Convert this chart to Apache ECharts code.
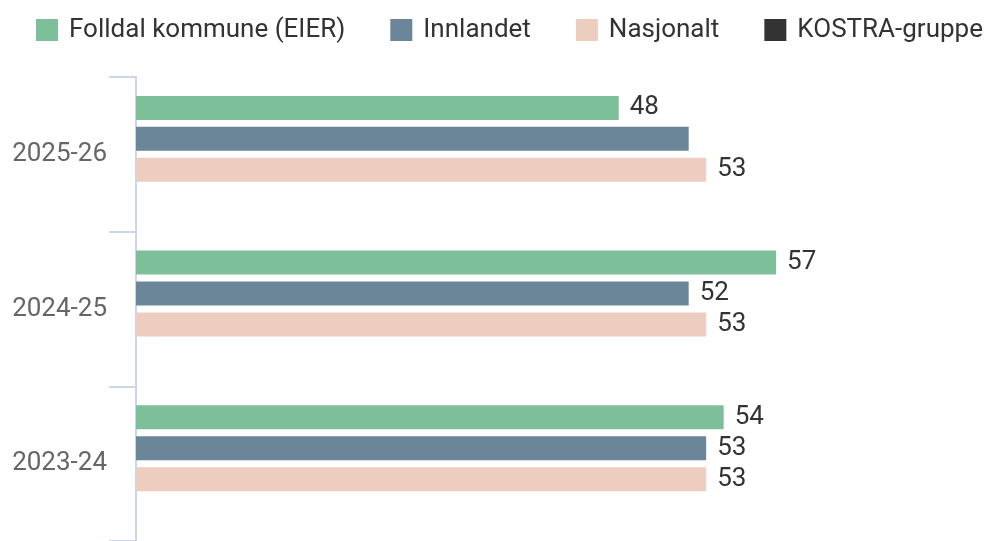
<!DOCTYPE html>
<html>
<head>
<meta charset="utf-8">
<script src="https://cdn.jsdelivr.net/npm/echarts@6/dist/echarts.min.js"></script>
<style>
  html, body { margin: 0; padding: 0; background: #fff; }
  #chart { width: 999px; height: 541px; }
</style>
</head>
<body>
<div id="chart"></div>
<script>
var years = ['2025-26', '2024-25', '2023-24'];
var seriesNames = ['Folldal kommune (EIER)', 'Innlandet', 'Nasjonalt', 'KOSTRA-gruppe'];
var folldal = [48, 57, 54];
var innlandet = [52, 52, 53];
var nasjonalt = [53, 53, 53];
var kostra = [];
// label for Innlandet 2025-26 is not shown in the original
var hiddenLabels = { 1: [0] };

var colors = ['#7dbf98', '#6b8599', '#edcdc0', '#333333'];
var values = [folldal, innlandet, nasjonalt, kostra];

var series = values.map(function (vals, i) {
    return {
        name: seriesNames[i],
        type: 'bar',
        barWidth: 24,
        barGap: '29%',
        itemStyle: { color: colors[i] },
        label: {
            show: true,
            position: 'right',
            distance: 11,
            fontFamily: 'Roboto',
            fontSize: 26,
            color: '#333'
        },
        data: vals.map(function (v, j) {
            var hide = hiddenLabels[i] && hiddenLabels[i].indexOf(j) >= 0;
            return hide ? { value: v, label: { show: false } } : v;
        })
    };
});

var option = {
    animation: false,
    color: colors,
    legend: {
        top: 12,
        left: 31,
        itemWidth: 22,
        itemHeight: 22,
        itemGap: 45,
        icon: 'rect',
        textStyle: {
            fontFamily: 'Roboto',
            fontSize: 26,
            color: '#333',
            padding: [0, 0, 0, 6]
        },
        data: seriesNames
    },
    grid: {
        left: 136,
        top: 77,
        bottom: -8,
        right: 13,
        containLabel: false
    },
    xAxis: {
        type: 'value',
        min: 20.4,
        max: 69,
        show: false
    },
    yAxis: {
        type: 'category',
        inverse: true,
        data: years,
        axisLine: { show: true, lineStyle: { color: '#ccd6eb', width: 2 } },
        axisTick: { show: true, length: 27, lineStyle: { color: '#ccd6eb', width: 2 } },
        axisLabel: {
            margin: 29,
            fontFamily: 'Roboto',
            fontSize: 26,
            color: '#666'
        }
    },
    series: series
};

var chart = echarts.init(document.getElementById('chart'));
chart.setOption(option);
</script>
</body>
</html>
